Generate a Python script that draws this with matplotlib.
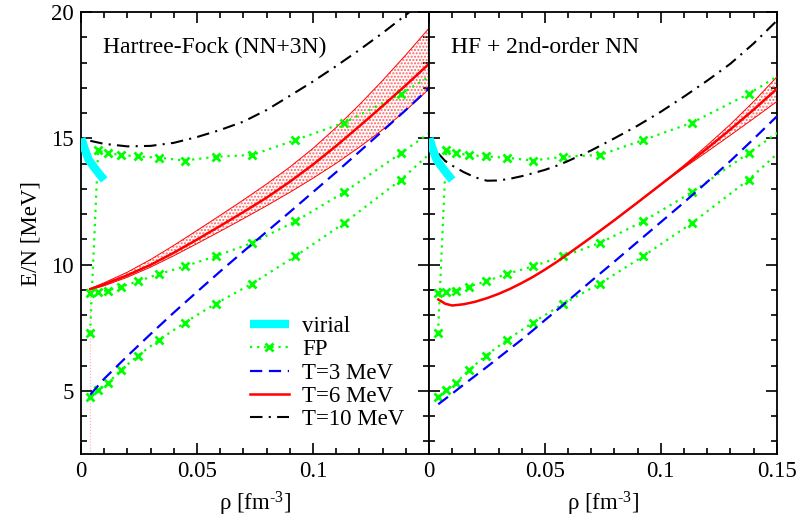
import numpy as np
import matplotlib
matplotlib.use('Agg')
import matplotlib.pyplot as plt
from matplotlib.ticker import MultipleLocator, FixedLocator, FixedFormatter

plt.rcParams['font.family'] = ['Liberation Serif', 'DejaVu Serif']
plt.rcParams['mathtext.fontset'] = 'custom'
plt.rcParams['mathtext.rm'] = 'Liberation Serif'
plt.rcParams['mathtext.it'] = 'Liberation Serif:italic'
plt.rcParams['hatch.linewidth'] = 1.0

# virial (same in both panels)
vir_rho = [0.0002, 0.0015, 0.0033, 0.0055, 0.0076, 0.0100]
vir_e = [15.0, 14.6, 14.15, 13.87, 13.62, 13.35]

# FP points (same in both panels)
fp_rho = [0.0039, 0.0074, 0.0115, 0.0172, 0.0246, 0.0337, 0.0447, 0.058, 0.0738, 0.0924, 0.1135, 0.1379, 0.166]
fp_t3 = [4.77, 5.02, 5.30, 5.82, 6.40, 7.02, 7.70, 8.45, 9.25, 10.33, 11.65, 13.36, 15.7]
fp_t6 = [8.88, 8.91, 8.97, 9.12, 9.34, 9.63, 9.93, 10.33, 10.86, 11.71, 12.87, 14.41, 16.24]
fp_t10 = [7.30, 14.52, 14.41, 14.34, 14.28, 14.23, 14.12, 14.27, 14.34, 14.93, 15.62, 16.76, 18.33]

# Hartree-Fock (NN+3N)
hf_rho = [0.004, 0.01, 0.02, 0.03, 0.04, 0.05, 0.06, 0.07, 0.08, 0.09, 0.10, 0.11, 0.12, 0.13, 0.14, 0.15]
hf_t3 = [4.85, 5.48, 6.38, 7.25, 8.10, 8.92, 9.73, 10.52, 11.30, 12.08, 12.87, 13.66, 14.47, 15.29, 16.12, 16.98]
hf_t6 = [9.03, 9.22, 9.58, 9.99, 10.47, 10.99, 11.53, 12.08, 12.65, 13.28, 13.96, 14.70, 15.48, 16.28, 17.10, 17.95]
hf_t6_hi = [9.05, 9.28, 9.70, 10.20, 10.76, 11.35, 11.95, 12.56, 13.19, 13.86, 14.60, 15.43, 16.33, 17.29, 18.30, 19.36]
hf_t6_lo = [9.00, 9.16, 9.50, 9.90, 10.35, 10.83, 11.32, 11.82, 12.33, 12.86, 13.42, 14.01, 14.65, 15.34, 16.10, 16.95]
hf_t10 = [14.90, 14.78, 14.68, 14.70, 14.82, 15.05, 15.33, 15.66, 16.12, 16.68, 17.25, 17.86, 18.50, 19.17, 19.88, 20.65]

# HF + 2nd-order NN
mb_rho = [0.004, 0.007, 0.01, 0.015, 0.02, 0.025, 0.03, 0.035, 0.04, 0.045, 0.05, 0.055, 0.06,
          0.07, 0.08, 0.09, 0.10, 0.11, 0.12, 0.13, 0.14, 0.15]
mb_t3 = [4.47, 4.68, 4.89, 5.25, 5.60, 5.95, 6.31, 6.67, 7.03, 7.41, 7.80, 8.18, 8.57,
         9.35, 10.12, 10.90, 11.68, 12.46, 13.27, 14.10, 14.97, 15.86]
mb_t6 = [8.62, 8.45, 8.38, 8.43, 8.53, 8.67, 8.84, 9.04, 9.27, 9.52, 9.80, 10.10, 10.42,
         11.08, 11.76, 12.46, 13.17, 13.88, 14.60, 15.35, 16.13, 16.95]
mb_t6_hi = [8.62, 8.45, 8.38, 8.43, 8.53, 8.67, 8.84, 9.04, 9.27, 9.52, 9.80, 10.10, 10.42,
            11.08, 11.76, 12.46, 13.17, 13.93, 14.72, 15.55, 16.45, 17.42]
mb_t6_lo = [8.62, 8.45, 8.38, 8.43, 8.53, 8.67, 8.84, 9.04, 9.27, 9.52, 9.80, 10.10, 10.42,
            11.08, 11.76, 12.46, 13.17, 13.83, 14.47, 15.12, 15.78, 16.45]
mb_t10 = [14.40, 14.10, 13.92, 13.66, 13.45, 13.32, 13.33, 13.40, 13.50, 13.62, 13.75, 13.91, 14.10,
          14.52, 15.00, 15.50, 16.05, 16.65, 17.28, 17.95, 18.75, 19.65]

panels = [
    ('Hartree-Fock (NN+3N)', hf_rho, hf_t3, hf_t6, hf_t6_lo, hf_t6_hi, hf_t10),
    ('HF + 2nd-order NN', mb_rho, mb_t3, mb_t6, mb_t6_lo, mb_t6_hi, mb_t10),
]

fs = 16.5
fig = plt.figure(figsize=(8, 5.27), dpi=100)
ax1 = fig.add_axes([0.10125, 0.1385, 0.435, 0.8387])
ax2 = fig.add_axes([0.53625, 0.1385, 0.4346, 0.8387])

for i, (ax, (title, rho, t3, t6, lo, hi, t10)) in enumerate(zip([ax1, ax2], panels)):
    # red band
    ax.fill_between(rho, lo, hi, facecolor='none', edgecolor='#ff6060',
                    hatch='.....', linewidth=0, zorder=2)
    ax.plot(rho, lo, color='red', lw=0.7, zorder=3)
    ax.plot(rho, hi, color='red', lw=0.7, zorder=3)
    if i == 0:
        ax.plot([rho[0], rho[0]], [2.5, lo[0]], color='#ffb0b0', lw=0.8, ls=':', zorder=1)

    # FP
    for fp in [fp_t3, fp_t6, fp_t10]:
        ax.plot(fp_rho, fp, color='#00ff00', lw=1.6, ls=(0, (1, 2.2)),
                marker='x', ms=6, mew=2, zorder=4,
                label='FP' if fp is fp_t3 else None)

    ax.plot(rho, t3, color='blue', lw=1.6, ls=(0, (5.5, 3)), zorder=5, label='T=3 MeV')
    ax.plot(rho, t6, color='red', lw=1.8, zorder=5, label='T=6 MeV')
    ax.plot(rho, t10, color='black', lw=1.5, ls=(0, (6, 3, 1, 3)), zorder=5, label='T=10 MeV')
    ax.plot(vir_rho, vir_e, color='#00ffff', lw=6, solid_capstyle='butt', zorder=6, label='virial')

    ax.text(0.063, 0.907, title, transform=ax.transAxes, fontsize=fs + 0.5, va='baseline')

    ax.set_xlim(0, 0.15)
    ax.set_ylim(2.5, 20)
    ax.xaxis.set_major_locator(FixedLocator([0, 0.05, 0.1, 0.15]))
    if i == 0:
        ax.xaxis.set_major_formatter(FixedFormatter(['0', '0.05', '0.1', '']))
    else:
        ax.xaxis.set_major_formatter(FixedFormatter(['0', '0.05', '0.1', '0.15']))
    ax.xaxis.set_minor_locator(MultipleLocator(0.01))
    ax.yaxis.set_major_locator(FixedLocator([5, 10, 15, 20]))
    ax.yaxis.set_minor_locator(MultipleLocator(1))
    ax.tick_params(which='both', direction='in', top=True, right=True,
                   labelsize=fs, width=1.2)
    ax.tick_params(which='major', length=8, pad=5)
    ax.tick_params(which='minor', length=4.5)
    if i == 1:
        ax.tick_params(labelleft=False)
    for s in ax.spines.values():
        s.set_linewidth(1.3)
    ax.set_xlabel(r'ρ [fm$^{\text{-3}}$]', fontsize=fs, labelpad=6)

ax1.set_ylabel('E/N [MeV]', fontsize=fs, labelpad=7)

# legend: virial, FP, T=3, T=6, T=10
h, l = ax1.get_legend_handles_labels()
order = [l.index(k) for k in ['virial', 'FP', 'T=3 MeV', 'T=6 MeV', 'T=10 MeV']]
ax1.legend([h[k] for k in order], [l[k] for k in order], loc='upper left',
           bbox_to_anchor=(0.485, 0.312), frameon=False, fontsize=fs,
           handlelength=1.7, handletextpad=0.6, labelspacing=0.1, borderpad=0,
           borderaxespad=0)

fig.savefig('out.png', dpi=100)
